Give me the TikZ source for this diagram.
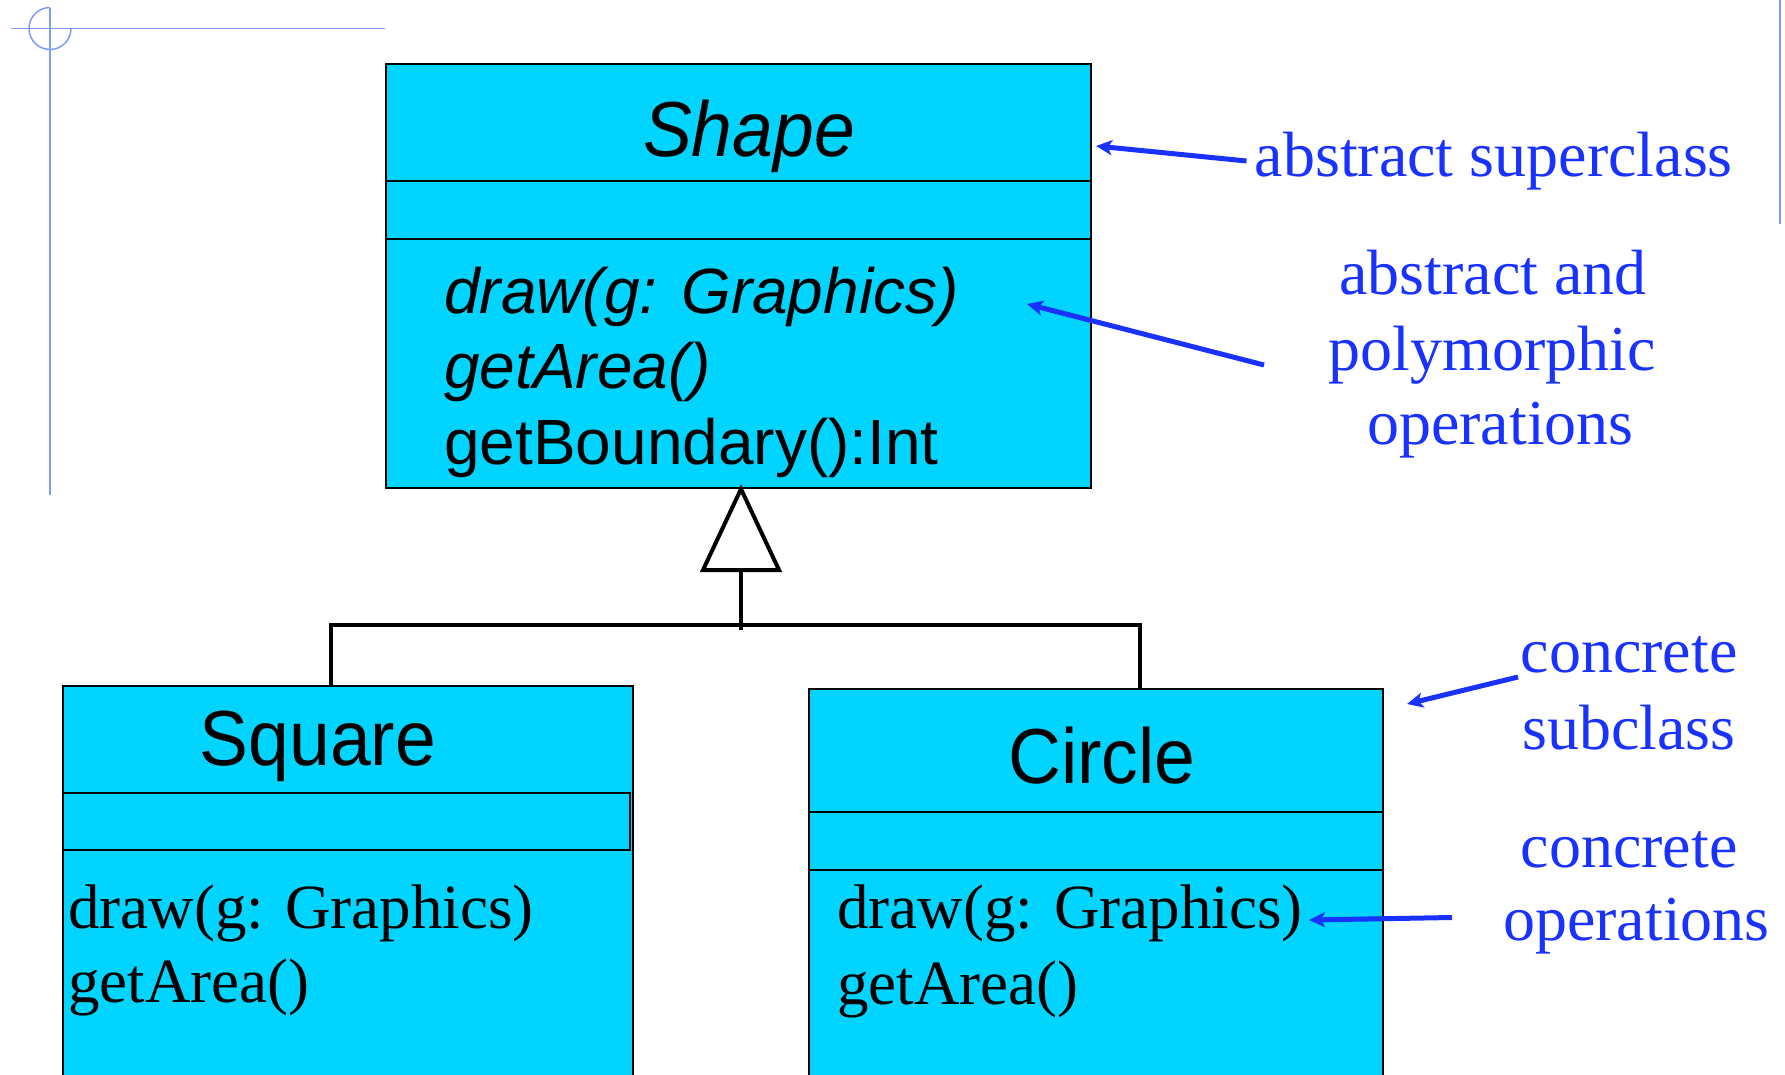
\documentclass[tikz,border=0pt]{standalone}
\usepackage{fontspec}
\setmainfont{Liberation Serif}
\newfontfamily\umlsans{Liberation Sans}
\newfontfamily\umltitle[FakeStretch=0.94]{Liberation Sans}
\usetikzlibrary{arrows.meta}
\definecolor{classfill}{RGB}{0,212,255}
\definecolor{notecol}{RGB}{25,50,255}
\definecolor{rulecol}{RGB}{125,155,255}

\begin{document}
\begin{tikzpicture}[x=1pt,y=-1pt,
  classbox/.style={draw=black, line width=2pt, fill=classfill, inner sep=0pt, outer sep=0pt, anchor=north west},
  compart/.style={draw=black, line width=2pt, inner sep=0pt, outer sep=0pt, anchor=north west},
  titletext/.style={inner sep=0pt, anchor=base, font=\umltitle\fontsize{78}{78}\selectfont},
  optext/.style={inner sep=0pt, anchor=base west, font=\umlsans\fontsize{64}{64}\selectfont},
  opserif/.style={inner sep=0pt, anchor=base west, font=\fontsize{63}{63}\selectfont},
  notetext/.style={inner sep=0pt, anchor=base, text=notecol, font=\fontsize{64}{64}\selectfont},
  note/.style={draw=notecol, line width=5pt, -{Stealth[length=16pt, width=15pt, inset=4pt]}},
  genline/.style={draw=black, line width=4pt},
  rule/.style={draw=rulecol, line width=1.5pt},
]
\clip (0,0) rectangle (1785,1074);

% page rules in the corner
\draw[rule] (11,28.5) -- (385,28.5);
\draw[rule] (50,7.5) -- (50,495);
\draw[rule] (50,7.5) arc[start angle=-90, end angle=-360, radius=21];
\draw[rule] (1780,0) -- (1780,224);

% abstract superclass
\node[classbox, minimum width=705, minimum height=424] (shape) at (386,64) {};
\node[compart, minimum width=705, minimum height=58] (shapeattr) at (386,181) {};
\node[titletext] (shapename) at (749,156) {\itshape Shape};
\node[optext] (shapeop1) at (444,313) {\itshape draw(g: Graphics)};
\node[optext] (shapeop2) at (444,388) {\itshape getArea()};
\node[optext] (shapeop3) at (444,464) {getBoundary():Int};

% concrete subclasses
\node[classbox, minimum width=570, minimum height=420] (square) at (63,686) {};
\node[compart, minimum width=567, minimum height=57] (squareattr) at (63,793) {};
\node[titletext] (squarename) at (318,765) {Square};
\node[opserif] (squareop1) at (68,928) {draw(g: Graphics)};
\node[opserif] (squareop2) at (68,1002) {getArea()};

\node[classbox, minimum width=574, minimum height=420] (circle) at (809,689) {};
\node[compart, minimum width=574, minimum height=58] (circleattr) at (809,812) {};
\node[titletext] (circlename) at (1102,783) {Circle};
\node[opserif] (circleop1) at (837,928) {draw(g: Graphics)};
\node[opserif] (circleop2) at (837,1004) {getArea()};

% generalization
\coordinate (genapex) at (741,489);
\coordinate (genbase) at (741,570);
\coordinate (genjoint) at (741,625);
\coordinate (genstemend) at (741,630);
\coordinate (sqtop) at (331,686);
\coordinate (cirtop) at (1140,689);
\draw[genline] (sqtop) |- (genjoint) -| (cirtop);
\draw[genline] (genbase) -- (genstemend);
\draw[genline, fill=white, line join=miter] (genapex) -- ++(38,81) -- ++(-76,0) -- cycle;

% annotations
\node[notetext, anchor=base west] (nsuper) at (1254.5,176.5) {abstract superclass};
\coordinate (nsuperfrom) at (1246.5,161);
\coordinate (nsuperto) at (1096,146);
\draw[note] (nsuperfrom) -- (nsuperto);

\node[notetext] (npolyA) at (1493,294) {abstract and};
\node[notetext] (npolyB) at (1492.5,370) {polymorphic};
\node[notetext] (npolyC) at (1500.5,444) {operations};
\coordinate (npolyfrom) at (1264,365);
\coordinate (npolyto) at (1027,304);
\draw[note] (npolyfrom) -- (npolyto);

\node[notetext] (nsubA) at (1629,672) {concrete};
\node[notetext] (nsubB) at (1629,749) {subclass};
\coordinate (nsubfrom) at (1518,677);
\coordinate (nsubto) at (1407,704);
\draw[note] (nsubfrom) -- (nsubto);

\node[notetext] (nopA) at (1629,867.5) {concrete};
\node[notetext] (nopB) at (1636.5,940) {operations};
\coordinate (nopfrom) at (1452,917.5);
\coordinate (nopto) at (1309,920);
\draw[note] (nopfrom) -- (nopto);
\end{tikzpicture}
\end{document}
